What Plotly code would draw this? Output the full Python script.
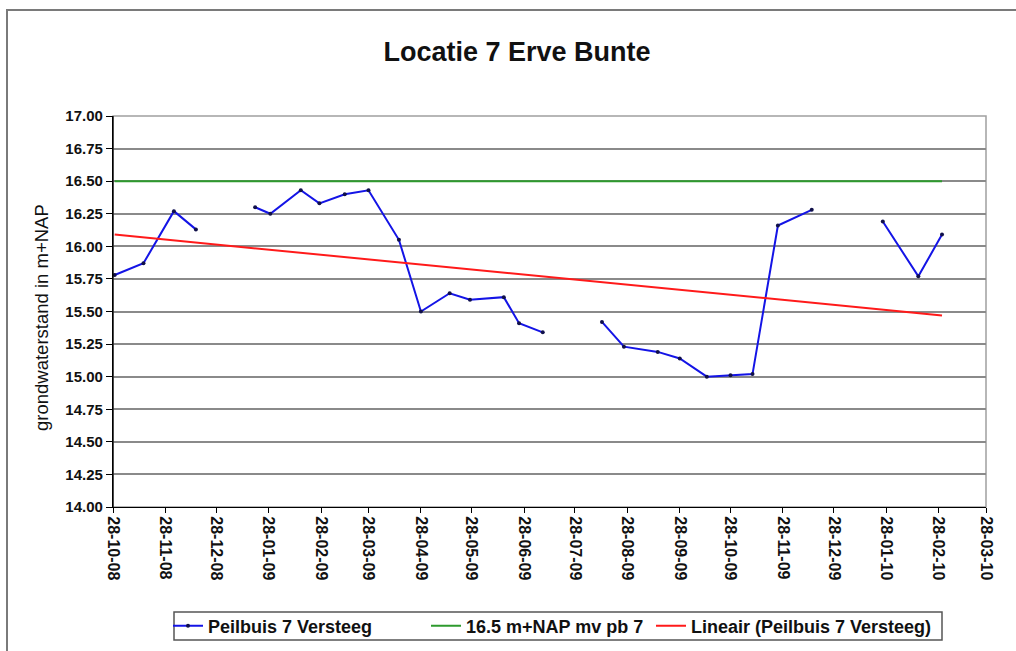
import plotly.graph_objects as go

# --- data ---
dates = ["2008-10-29", "2008-11-15", "2008-12-03", "2008-12-16", None,
         "2009-01-20", "2009-01-29", "2009-02-16", "2009-02-27", "2009-03-14",
         "2009-03-28", "2009-04-15", "2009-04-28", "2009-05-15", "2009-05-27",
         "2009-06-16", "2009-06-25", "2009-07-09", None,
         "2009-08-13", "2009-08-26", "2009-09-15", "2009-09-28", "2009-10-14",
         "2009-10-28", "2009-11-10", "2009-11-25", "2009-12-15", None,
         "2010-01-26", "2010-02-16", "2010-03-02"]
levels = [15.78, 15.87, 16.27, 16.13, None,
          16.30, 16.25, 16.43, 16.33, 16.40,
          16.43, 16.05, 15.50, 15.64, 15.59,
          15.61, 15.41, 15.34, None,
          15.42, 15.23, 15.19, 15.14, 15.00,
          15.01, 15.02, 16.16, 16.28, None,
          16.19, 15.77, 16.09]
# dates used for the missing readings (gaps in the line)
gap_dates = ["2008-12-30", "2009-07-25", "2010-01-05"]
mv_level = 16.5
trend_ends = [16.09, 15.47]  # Lineair trendline at first and last date

tick_dates = ["2008-10-28", "2008-11-28", "2008-12-28", "2009-01-28", "2009-02-28",
              "2009-03-28", "2009-04-28", "2009-05-28", "2009-06-28", "2009-07-28",
              "2009-08-28", "2009-09-28", "2009-10-28", "2009-11-28", "2009-12-28",
              "2010-01-28", "2010-02-28", "2010-03-28"]
tick_labels = ["28-10-08", "28-11-08", "28-12-08", "28-01-09", "28-02-09", "28-03-09",
               "28-04-09", "28-05-09", "28-06-09", "28-07-09", "28-08-09", "28-09-09",
               "28-10-09", "28-11-09", "28-12-09", "28-01-10", "28-02-10", "28-03-10"]
y_ticks = [14.0 + 0.25 * i for i in range(13)]

gi = iter(gap_dates)
xs = [d if d is not None else next(gi) for d in dates]
first_date = dates[0]
last_date = dates[-1]

FONT = "Arial, Liberation Sans, sans-serif"
L, R, T, B = 113, 30, 116, 144
W, H = 1016, 651
PW, PH = W - L - R, H - T - B


def px(xp):
    return (xp - L) / PW


def py(yp):
    return (H - B - yp) / PH


fig = go.Figure()
fig.add_trace(go.Scatter(
    x=xs, y=levels, mode="lines+markers", name="Peilbuis 7 Versteeg",
    line=dict(color="#1414e6", width=2), connectgaps=False, legend="legend",
    marker=dict(color="#10104a", size=4, symbol="circle")))
fig.add_trace(go.Scatter(
    x=[first_date, last_date], y=[mv_level, mv_level], mode="lines",
    name="16.5 m+NAP mv pb 7", line=dict(color="#2e9a2e", width=2), legend="legend2"))
fig.add_trace(go.Scatter(
    x=[first_date, last_date], y=trend_ends, mode="lines",
    name="Lineair (Peilbuis 7 Versteeg)", line=dict(color="#ff1a1a", width=2),
    legend="legend3"))

leg_font = dict(size=18, family=FONT, weight="bold", color="#111")


def leg(xpix):
    return dict(orientation="h", xanchor="left", x=px(xpix), yanchor="middle",
                y=py(626), borderwidth=0, bgcolor="rgba(0,0,0,0)",
                font=leg_font, itemwidth=30)


fig.update_layout(
    width=W, height=H,
    paper_bgcolor="white", plot_bgcolor="white",
    margin=dict(l=L, r=R, t=T, b=B, autoexpand=False),
    font=dict(family=FONT, color="black"),
    title=dict(text="<b>Locatie 7 Erve Bunte</b>", xref="container", x=517 / W,
               xanchor="center", y=1 - 52 / H, yanchor="middle",
               font=dict(size=27, family=FONT, color="#111")),
    showlegend=True,
    legend=leg(168), legend2=leg(426), legend3=leg(651),
    xaxis=dict(type="date", range=["2008-10-28", "2010-03-28"], automargin=False,
               tickvals=tick_dates, ticktext=tick_labels, tickangle=90,
               tickfont=dict(size=16, family=FONT, weight="bold", color="#111"),
               showgrid=False, showline=True, linecolor="black", linewidth=1.2,
               ticks="outside", ticklen=5, tickcolor="black", zeroline=False),
    yaxis=dict(range=[14.0, 17.0], tickvals=y_ticks, automargin=False,
               ticktext=[f"{v:.2f}" for v in y_ticks],
               tickfont=dict(size=15, family=FONT, weight="bold", color="#111"),
               showgrid=True, gridcolor="#8a8a8a", gridwidth=1.5,
               showline=True, linecolor="black", linewidth=1.2,
               ticks="outside", ticklen=6, tickcolor="black", zeroline=False),
    annotations=[dict(text="grondwaterstand in m+NAP", textangle=-90,
                      xref="paper", yref="paper", x=px(41), y=py(318),
                      xanchor="center", yanchor="middle", showarrow=False,
                      font=dict(size=18.5, family=FONT, color="#111"))],
    shapes=[
        dict(type="rect", xref="paper", yref="paper", x0=0, x1=1, y0=0, y1=1,
             line=dict(color="#a0a0a0", width=1.5), layer="below"),
        dict(type="line", xref="paper", yref="paper", x0=0, x1=0, y0=0, y1=1,
             line=dict(color="black", width=1.2)),
        # outer chart frame
        dict(type="rect", xref="paper", yref="paper",
             x0=px(7), x1=px(1030), y0=py(670), y1=py(10),
             line=dict(color="#7a7a7a", width=2)),
        # legend frame
        dict(type="rect", xref="paper", yref="paper",
             x0=px(174), x1=px(942), y0=py(640), y1=py(612),
             line=dict(color="#555", width=1.5)),
    ],
)

fig.write_html("out.html", config={"displayModeBar": False},
               post_script="document.body.style.margin='0';document.body.style.overflow='hidden';")
